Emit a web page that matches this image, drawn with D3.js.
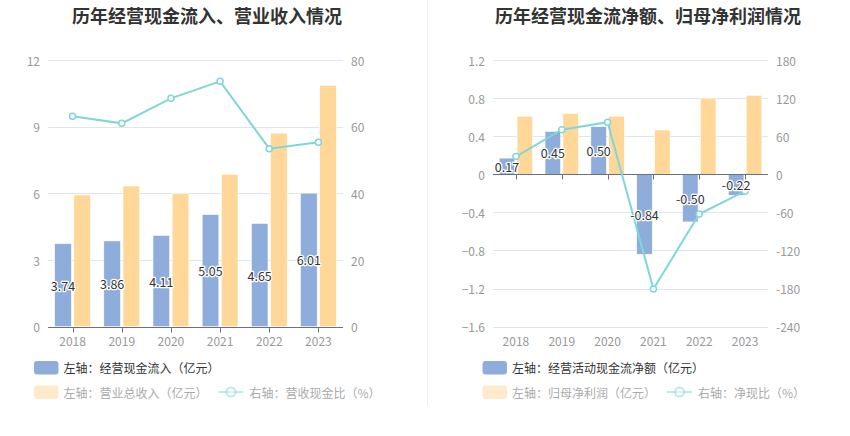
<!DOCTYPE html>
<html><head><meta charset="utf-8">
<script src="https://cdn.jsdelivr.net/npm/d3@7/dist/d3.min.js"></script>
<style>
html,body{margin:0;padding:0;background:#fff;}
svg{display:block;font-family:"Noto Sans CJK SC","Microsoft YaHei",sans-serif;}
</style></head>
<body><svg id="c" width="850" height="436"></svg>
<script>
const years = ["2018","2019","2020","2021","2022","2023"];
// Left chart
const cashInflow = [3.74, 3.86, 4.11, 5.05, 4.65, 6.01];
const revenue = [5.93, 6.33, 6.00, 6.86, 8.71, 10.86];
const cashRevRatio = [63.1, 61.0, 68.5, 73.6, 53.4, 55.3];
const leftTicksL = [0, 3, 6, 9, 12];
const leftTicksR = [0, 20, 40, 60, 80];
// Right chart
const netCashFlow = [0.17, 0.45, 0.50, -0.84, -0.50, -0.22];
const netProfit = [0.61, 0.64, 0.61, 0.465, 0.80, 0.83];
const netCashRatio = [27.9, 70.3, 82.0, -180.6, -62.5, -26.5];
const rightTicksL = [-1.6, -1.2, -0.8, -0.4, 0, 0.4, 0.8, 1.2];
const rightTicksR = [-240, -180, -120, -60, 0, 60, 120, 180];

const BLUE = "#8EADDB", ORANGE = "#FFD899", TEAL = "#80D6D8";
const svg = d3.select("#c");

// separator
svg.append("line").attr("x1", 427.5).attr("x2", 427.5).attr("y1", 0).attr("y2", 405)
  .attr("stroke", "#EEEEEE").attr("stroke-width", 1);

function drawChart(cfg) {
  const g = svg.append("g");
  g.append("text").attr("x", cfg.titleX).attr("y", 15).attr("text-anchor", "middle")
    .attr("dominant-baseline", "central").attr("font-size", 18).attr("font-weight", "bold")
    .attr("fill", "#333").text(cfg.title);

  const x = d3.scaleBand().domain(years).range([cfg.x0, cfg.x1]);
  const yL = d3.scaleLinear().domain(cfg.domL).range([cfg.yB, cfg.yT]);
  const yR = d3.scaleLinear().domain(cfg.domR).range([cfg.yB, cfg.yT]);
  const bw = x.bandwidth();
  const w = bw * 0.34, off = bw * 0.195;

  // grid
  g.selectAll(".grid").data(cfg.ticksL).join("line")
    .attr("x1", cfg.x0).attr("x2", cfg.x1)
    .attr("y1", d => Math.round(yL(d)) + 0.5).attr("y2", d => Math.round(yL(d)) + 0.5)
    .attr("stroke", "#E0E6F1");

  // left axis labels
  g.selectAll(".ll").data(cfg.ticksL).join("text")
    .attr("x", cfg.x0 - 8).attr("y", d => yL(d)).attr("text-anchor", "end")
    .attr("dominant-baseline", "central").attr("font-size", 12).attr("fill", "#999")
    .text(d => d3.format("")(d));
  // right axis labels
  g.selectAll(".rl").data(cfg.ticksR).join("text")
    .attr("x", cfg.x1 + 8).attr("y", d => yR(d)).attr("text-anchor", "start")
    .attr("dominant-baseline", "central").attr("font-size", 12).attr("fill", "#999")
    .text(d => d);

  // bars
  g.selectAll(".b1").data(years).join("rect")
    .attr("x", d => x(d) + bw / 2 - off - w / 2).attr("width", w)
    .attr("y", (d, i) => yL(Math.max(0, cfg.bar1[i])))
    .attr("height", (d, i) => Math.abs(yL(cfg.bar1[i]) - yL(0)))
    .attr("fill", BLUE).attr("stroke", "#fff").attr("stroke-width", 0.6);
  g.selectAll(".b2").data(years).join("rect")
    .attr("x", d => x(d) + bw / 2 + off - w / 2).attr("width", w)
    .attr("y", (d, i) => yL(Math.max(0, cfg.bar2[i])))
    .attr("height", (d, i) => Math.abs(yL(cfg.bar2[i]) - yL(0)))
    .attr("fill", ORANGE).attr("stroke", "#fff").attr("stroke-width", 0.6);

  // x axis
  const y0 = Math.round(yL(0)) + 0.5;
  g.append("line").attr("x1", cfg.x0).attr("x2", cfg.x1).attr("y1", y0).attr("y2", y0)
    .attr("stroke", "#6E7079");
  g.selectAll(".tk").data(years).join("line")
    .attr("x1", d => Math.round(x(d) + bw / 2) + 0.5).attr("x2", d => Math.round(x(d) + bw / 2) + 0.5)
    .attr("y1", y0).attr("y2", y0 + 5).attr("stroke", "#6E7079");
  g.selectAll(".xl").data(years).join("text")
    .attr("x", d => x(d) + bw / 2).attr("y", cfg.yB + 14).attr("text-anchor", "middle")
    .attr("dominant-baseline", "central").attr("font-size", 12).attr("fill", "#999")
    .text(d => d);

  // line
  const line = d3.line().x((d, i) => x(years[i]) + bw / 2).y(d => yR(d));
  g.append("path").datum(cfg.ratio).attr("d", line).attr("fill", "none")
    .attr("stroke", TEAL).attr("stroke-width", 2);
  g.selectAll(".pt").data(cfg.ratio).join("circle")
    .attr("cx", (d, i) => x(years[i]) + bw / 2).attr("cy", d => yR(d)).attr("r", 3)
    .attr("fill", "#fff").attr("stroke", TEAL).attr("stroke-width", 1.5);

  // bar labels
  g.selectAll(".lb").data(cfg.bar1).join("text")
    .attr("x", (d, i) => x(years[i]) + bw / 2 - off)
    .attr("y", d => (yL(d) + yL(0)) / 2)
    .attr("text-anchor", "middle").attr("dominant-baseline", "central")
    .attr("font-size", 12.5).attr("fill", "#333")
    .attr("stroke", "#fff").attr("stroke-width", 2.5).attr("paint-order", "stroke")
    .attr("stroke-linejoin", "round")
    .text(d => d.toFixed(2));

  // legend
  const L = cfg.legend;
  g.append("rect").attr("x", L.x).attr("y", 361).attr("width", 24.5).attr("height", 13.5).attr("rx", 3)
    .attr("fill", BLUE);
  g.append("text").attr("x", L.x + 29.5).attr("y", 367.5).attr("dominant-baseline", "central")
    .attr("font-size", 12).attr("fill", "#333").text(L.t1);
  g.append("rect").attr("x", L.x).attr("y", 385.5).attr("width", 24.5).attr("height", 13.5).attr("rx", 3)
    .attr("fill", ORANGE).attr("opacity", 0.5);
  g.append("text").attr("x", L.x + 29.5).attr("y", 392).attr("dominant-baseline", "central")
    .attr("font-size", 12).attr("fill", "#AAA").text(L.t2);
  g.append("line").attr("x1", L.lx).attr("x2", L.lx + 25).attr("y1", 392).attr("y2", 392)
    .attr("stroke", TEAL).attr("stroke-width", 2).attr("opacity", 0.5);
  g.append("circle").attr("cx", L.lx + 12.5).attr("cy", 392).attr("r", 4.5)
    .attr("fill", "#fff").attr("stroke", TEAL).attr("stroke-width", 2).attr("opacity", 0.5);
  g.append("text").attr("x", L.lx + 31).attr("y", 392).attr("dominant-baseline", "central")
    .attr("font-size", 12).attr("fill", "#AAA").text(L.t3);
}

drawChart({
  title: "历年经营现金流入、营业收入情况", titleX: 207,
  x0: 48, x1: 343, yT: 60, yB: 326.7,
  domL: [0, 12], domR: [0, 80], ticksL: leftTicksL, ticksR: leftTicksR,
  bar1: cashInflow, bar2: revenue, ratio: cashRevRatio,
  legend: { x: 34, lx: 218.5, t1: "左轴：经营现金流入（亿元）", t2: "左轴：营业总收入（亿元）", t3: "右轴：营收现金比（%）" }
});
drawChart({
  title: "历年经营现金流净额、归母净利润情况", titleX: 648,
  x0: 493, x1: 768, yT: 60, yB: 326.7,
  domL: [-1.6, 1.2], domR: [-240, 180], ticksL: rightTicksL, ticksR: rightTicksR,
  bar1: netCashFlow, bar2: netProfit, ratio: netCashRatio,
  legend: { x: 482.5, lx: 667, t1: "左轴：经营活动现金流净额（亿元）", t2: "左轴：归母净利润（亿元）", t3: "右轴：净现比（%）" }
});
</script></body></html>
